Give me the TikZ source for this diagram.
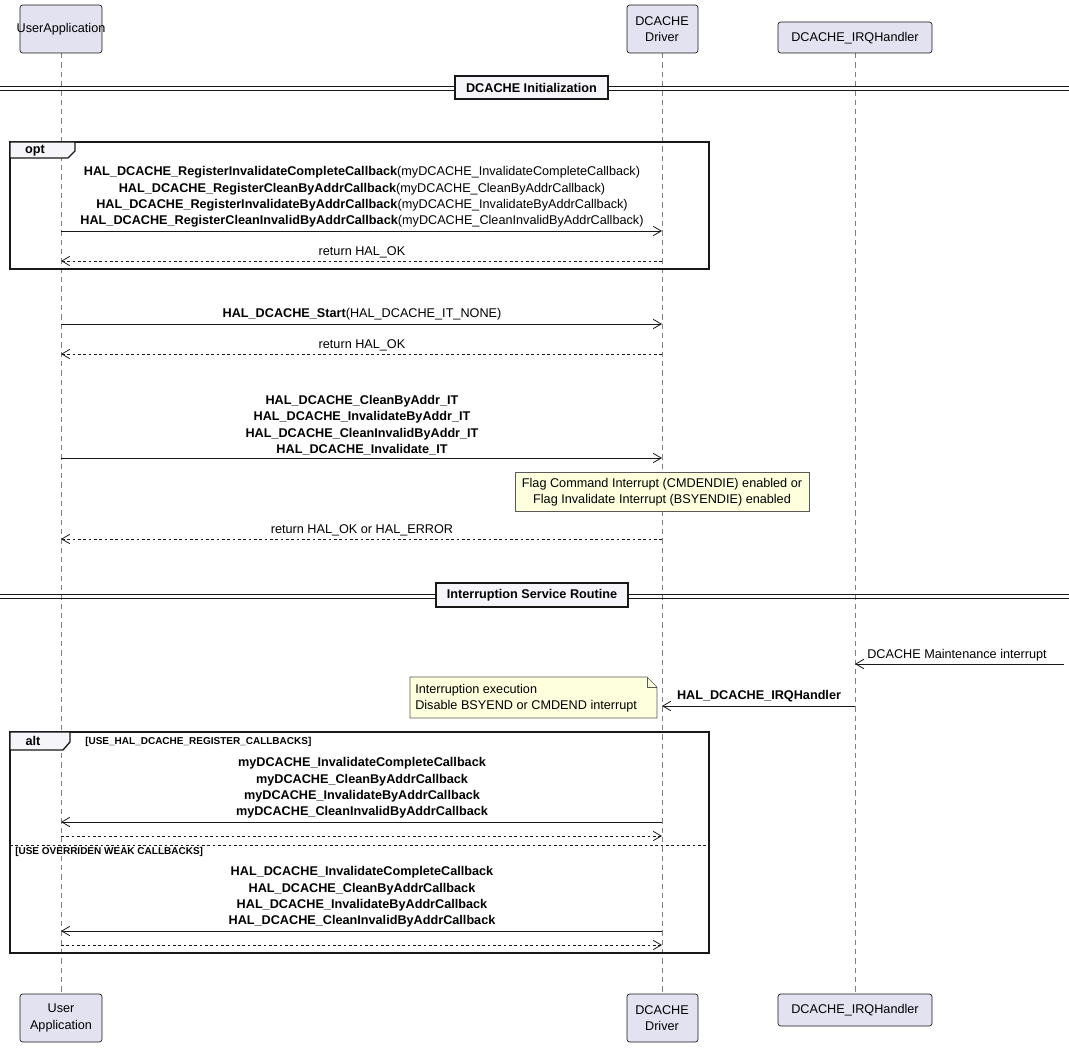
\documentclass[tikz,border=0pt]{standalone}
\usepackage{fontspec}
\setmainfont{Liberation Sans}
\usetikzlibrary{arrows.meta}
\definecolor{part}{HTML}{E2E2F0}
\definecolor{notef}{HTML}{FEFFDD}
\definecolor{ln}{HTML}{181818}
\begin{document}
\begin{tikzpicture}[x=0.75pt,y=-0.75pt,
 every node/.style={font=\fontsize{9.5}{11.5}\selectfont,inner sep=0pt},
 pbox/.style={draw=ln,fill=part,rounded corners=2pt,line width=0.5pt,align=center},
 life/.style={draw=gray,dash pattern=on 4pt off 3pt,line width=0.5pt},
 msg/.style={draw=ln,line width=0.6pt,-{Straight Barb[length=6pt,width=7pt]}},
 ret/.style={msg,dash pattern=on 2pt off 2pt},
 lbl/.style={align=center,font=\fontsize{9.5}{12.3}\selectfont},
 frame/.style={draw=ln,line width=1pt},
 note/.style={draw=gray!70!black,fill=notef,line width=0.5pt},
 dvd/.style={draw=ln,fill=part!40!white,line width=1pt,font=\bfseries\fontsize{9.5}{11}\selectfont,inner sep=0pt}]
\useasboundingbox (0,0) rectangle (1069,1048);
% lifelines
\draw[life] (61,53) -- (61,994);
\draw[life] (662,53) -- (662,994);
\draw[life] (855,53) -- (855,994);
% participants
\node[pbox,minimum width=82\pgflinewidth] (u1) at (61,29) {};
\draw[ln,fill=part,rounded corners=2pt,line width=0.5pt] (20,5) rectangle (102,53);
\node at (61,29) {User\\[1pt]Application};
\node[align=center] (uT) at (61,29) {};
\draw[ln,fill=part,rounded corners=2pt,line width=0.5pt] (627,5) rectangle (698,53);
\node[align=center] (dT) at (662,29) {DCACHE\\[1pt]Driver};
\draw[ln,fill=part,rounded corners=2pt,line width=0.5pt] (778,22) rectangle (932,53);
\node (iT) at (855,38) {DCACHE\_IRQHandler};
\draw[ln,fill=part,rounded corners=2pt,line width=0.5pt] (20,994) rectangle (102,1042);
\node[align=center] (uB) at (61,1018) {User\\[1pt]Application};
\draw[ln,fill=part,rounded corners=2pt,line width=0.5pt] (627,994) rectangle (698,1042);
\node[align=center] (dB) at (662,1018) {DCACHE\\[1pt]Driver};
\draw[ln,fill=part,rounded corners=2pt,line width=0.5pt] (778,994) rectangle (932,1026);
\node (iB) at (855,1010) {DCACHE\_IRQHandler};
% anchor coordinates
\foreach \n/\x in {U/61,D/662,I/855}{
 \foreach \y in {231,261,324,354,458,539,664,706,822,836,931,945}{\coordinate (\n\y) at (\x,\y);}}
\coordinate (E664) at (1064,664);
% divider 1
\draw[ln,line width=0.7pt] (0,86) -- (1069,86) (0,90) -- (1069,90);
\draw[ln,fill=part!30!white,line width=1.2pt] (455,76) rectangle (608,99);
\node[font=\bfseries\fontsize{9.5}{11}\selectfont] at (531.5,88) {DCACHE Initialization};
% opt frame
\draw[frame] (10,142) rectangle (709,269);
\draw[frame,fill=part!30!white] (10,142) -- (75,142) -- (75,151) -- (68,158) -- (10,158) -- cycle;
\node[font=\bfseries\fontsize{9.5}{11}\selectfont] at (35,151) {opt};
\node[lbl] at (362,197) {\textbf{HAL\_DCACHE\_RegisterInvalidateCompleteCallback}(myDCACHE\_InvalidateCompleteCallback)\\
\textbf{HAL\_DCACHE\_RegisterCleanByAddrCallback}(myDCACHE\_CleanByAddrCallback)\\
\textbf{HAL\_DCACHE\_RegisterInvalidateByAddrCallback}(myDCACHE\_InvalidateByAddrCallback)\\
\textbf{HAL\_DCACHE\_RegisterCleanInvalidByAddrCallback}(myDCACHE\_CleanInvalidByAddrCallback)};
\draw[msg] (U231) -- (D231);
\draw[ret] (D261) -- (U261);
\node at (362,252) {return HAL\_OK};
% start
\node at (362,314) {\textbf{HAL\_DCACHE\_Start}(HAL\_DCACHE\_IT\_NONE)};
\draw[msg] (U324) -- (D324);
\node at (362,345) {return HAL\_OK};
\draw[ret] (D354) -- (U354);
\node[lbl,font=\bfseries\fontsize{9.5}{12.3}\selectfont] at (362,425) {HAL\_DCACHE\_CleanByAddr\_IT\\HAL\_DCACHE\_InvalidateByAddr\_IT\\HAL\_DCACHE\_CleanInvalidByAddr\_IT\\HAL\_DCACHE\_Invalidate\_IT};
\draw[msg] (U458) -- (D458);
\draw[note] (515,472) rectangle (809,511);
\node[lbl] at (662,492) {Flag Command Interrupt (CMDENDIE) enabled or\\Flag Invalidate Interrupt (BSYENDIE) enabled};
\node at (362,530) {return HAL\_OK or HAL\_ERROR};
\draw[ret] (D539) -- (U539);
% divider 2
\draw[ln,line width=0.7pt] (0,594) -- (1069,594) (0,598) -- (1069,598);
\draw[ln,fill=part!30!white,line width=1.2pt] (436,583) rectangle (628,607);
\node[font=\bfseries\fontsize{9.5}{11}\selectfont] at (532,595) {Interruption Service Routine};
% ISR
\draw[msg] (E664) -- (I664);
\node[anchor=west] at (867,655) {DCACHE Maintenance interrupt};
\draw[msg] (I706) -- (D706);
\node[font=\bfseries\fontsize{9.5}{11}\selectfont] at (759,696) {HAL\_DCACHE\_IRQHandler};
\draw[note] (410,677) -- (647,677) -- (657,687) -- (657,718) -- (410,718) -- cycle;
\draw[note,fill=none] (647,677) -- (647,687) -- (657,687);
\node[anchor=west,align=left,font=\fontsize{9.5}{12.3}\selectfont] at (415,698) {Interruption execution\\Disable BSYEND or CMDEND interrupt};
% alt frame
\draw[frame] (10,732) rectangle (709,953);
\draw[frame,fill=part!30!white] (10,732) -- (70,732) -- (70,742) -- (63,750) -- (10,750) -- cycle;
\node[font=\bfseries\fontsize{9.5}{11}\selectfont] at (33,741) {alt};
\node[anchor=west,font=\bfseries\fontsize{7.5}{9}\selectfont] at (85,742) {[USE\_HAL\_DCACHE\_REGISTER\_CALLBACKS]};
\node[lbl,font=\bfseries\fontsize{9.5}{12.3}\selectfont] at (362,788) {myDCACHE\_InvalidateCompleteCallback\\myDCACHE\_CleanByAddrCallback\\myDCACHE\_InvalidateByAddrCallback\\myDCACHE\_CleanInvalidByAddrCallback};
\draw[msg] (D822) -- (U822);
\draw[ret] (U836) -- (D836);
\draw[ln,line width=0.6pt,dash pattern=on 2pt off 2pt] (10,845) -- (709,845);
\node[anchor=west,font=\bfseries\fontsize{7.5}{9}\selectfont] at (15,852) {[USE OVERRIDEN WEAK CALLBACKS]};
\node[lbl,font=\bfseries\fontsize{9.5}{12.3}\selectfont] at (362,897) {HAL\_DCACHE\_InvalidateCompleteCallback\\HAL\_DCACHE\_CleanByAddrCallback\\HAL\_DCACHE\_InvalidateByAddrCallback\\HAL\_DCACHE\_CleanInvalidByAddrCallback};
\draw[msg] (D931) -- (U931);
\draw[ret] (U945) -- (D945);
\end{tikzpicture}
\end{document}
